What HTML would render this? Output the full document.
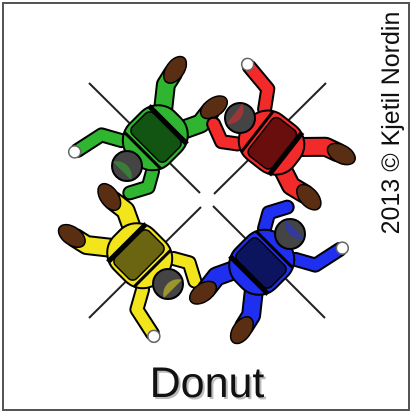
<!DOCTYPE html>
<html><head><meta charset="utf-8"><style>
html,body{margin:0;padding:0;background:#fff;width:414px;height:414px;overflow:hidden}
</style></head><body>
<svg width="414" height="414" viewBox="0 0 414 414">
<defs>
<g id="fig">
  <!-- legs -->
  <path d="M65,-14 L85,-30 L98,-33" fill="none" stroke="#000" stroke-width="20" stroke-linejoin="round" stroke-linecap="round"/>
  <path d="M65,14 L82,22 L98,20" fill="none" stroke="#000" stroke-width="20" stroke-linejoin="round" stroke-linecap="round"/>
  <path d="M65,-14 L85,-30 L98,-33" fill="none" stroke="var(--c)" stroke-width="16" stroke-linejoin="round" stroke-linecap="round"/>
  <path d="M65,14 L82,22 L98,20" fill="none" stroke="var(--c)" stroke-width="16" stroke-linejoin="round" stroke-linecap="round"/>
  <ellipse cx="102" cy="-34" rx="15" ry="9" transform="rotate(-10 102 -34)" fill="#5a2e12" stroke="#000" stroke-width="1.5"/>
  <ellipse cx="103" cy="20" rx="15" ry="9" transform="rotate(10 103 20)" fill="#5a2e12" stroke="#000" stroke-width="1.5"/>
  <!-- arms -->
  <path d="M14,-22 L4,-40 L-24,-46" fill="none" stroke="#000" stroke-width="15" stroke-linejoin="round" stroke-linecap="round"/>
  <path d="M14,22 L0,30 L-17,21" fill="none" stroke="#000" stroke-width="15" stroke-linejoin="round" stroke-linecap="round"/>
  <path d="M14,-22 L4,-40 L-24,-46" fill="none" stroke="var(--c)" stroke-width="11" stroke-linejoin="round" stroke-linecap="round"/>
  <path d="M14,22 L0,30 L-17,21" fill="none" stroke="var(--c)" stroke-width="11" stroke-linejoin="round" stroke-linecap="round"/>
  <circle cx="-27" cy="-47" r="6" fill="#fff" stroke="#666" stroke-width="1.5"/>
  <!-- torso -->
  <rect x="8" y="-28" width="64" height="56" rx="24" fill="var(--c)" stroke="#000" stroke-width="2"/>
  <rect x="26" y="-24" width="30" height="48" rx="6" fill="var(--d)" stroke="#000" stroke-width="1.5"/>
  <line x1="58" y1="-27" x2="58" y2="27" stroke="#000" stroke-width="5"/>
  <line x1="22" y1="-26" x2="22" y2="26" stroke="#000" stroke-width="3"/>
  <!-- head -->
  <circle cx="0" cy="0" r="15" fill="#444" stroke="#000" stroke-width="2"/>
  <path d="M-7,-13 A15,15 0 0 1 -7,13" fill="var(--c)" opacity="0.5"/>
</g>
</defs>
<rect x="3" y="3" width="406" height="407" fill="none" stroke="#555" stroke-width="2"/>
<g stroke="#222" stroke-width="2">
  <line x1="89" y1="83" x2="200" y2="193"/>
  <line x1="213" y1="206" x2="325" y2="318"/>
  <line x1="326" y1="83" x2="214" y2="194"/>
  <line x1="201" y1="207" x2="89" y2="318"/>
</g>
<g style="--c:#2fb52f;--d:#125512" transform="translate(127,166) rotate(-45)"><use href="#fig"/></g>
<g style="--c:#f22a2a;--d:#6a0d0d" transform="translate(240,118) rotate(38)"><use href="#fig"/></g>
<g style="--c:#f2e51c;--d:#6b6410" transform="translate(168,284) rotate(-135)"><use href="#fig"/></g>
<g style="--c:#1f2ff0;--d:#0c1460" transform="translate(290,234) rotate(135)"><use href="#fig"/></g>
<text x="209" y="399" text-anchor="middle" font-family="Liberation Sans, sans-serif" font-size="43" fill="#bbb">Donut</text>
<text x="207" y="397" text-anchor="middle" font-family="Liberation Sans, sans-serif" font-size="43" fill="#111">Donut</text>
<text transform="translate(399,123) rotate(-90)" text-anchor="middle" font-family="Liberation Sans, sans-serif" font-size="25" fill="#111">2013 © Kjetil Nordin</text>
</svg>
</body></html>
